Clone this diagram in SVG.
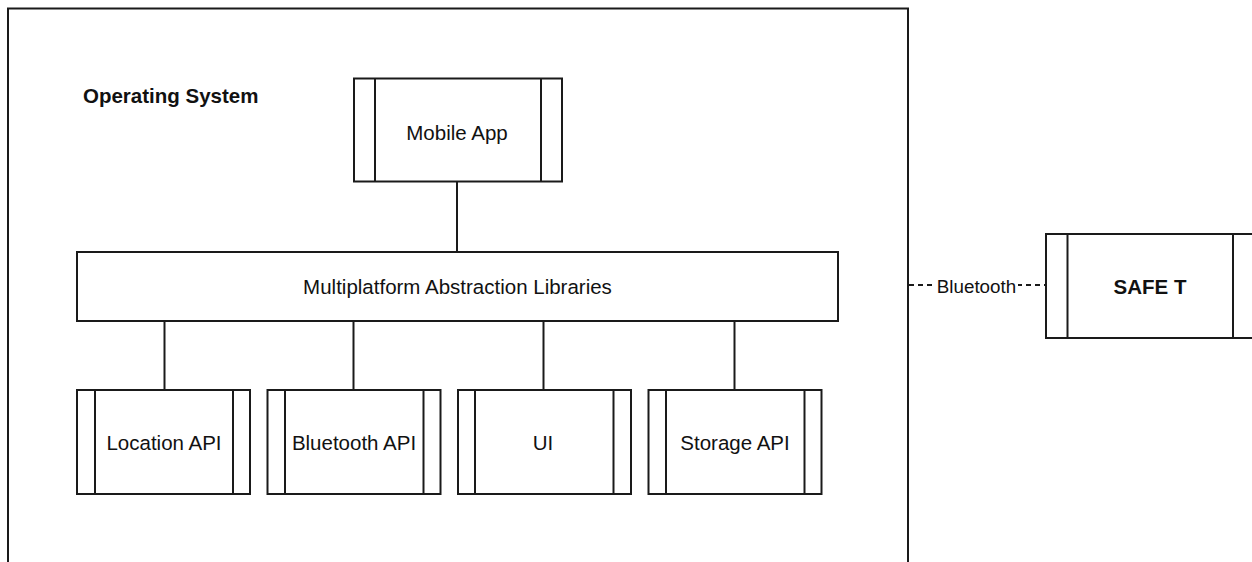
<svg xmlns="http://www.w3.org/2000/svg" width="1252" height="562" viewBox="0 0 1252 562">
<style>
.box{fill:#fff;stroke:#1a1a1a;stroke-width:2}
.ln{stroke:#1a1a1a;stroke-width:2;fill:none}
.t{font-family:"Liberation Sans",Arial,sans-serif;font-size:20.5px;fill:#111;text-anchor:middle}
.b{font-weight:bold}
.dash{stroke:#1a1a1a;stroke-width:2;stroke-dasharray:5 4;fill:none}
</style>
<rect width="1252" height="562" fill="#fff"/>
<g id="os">
<path class="ln" d="M8,570 V8.5 H908 V570"/>
<text class="t b" x="83" y="103" style="text-anchor:start">Operating System</text>
</g>
<g id="connectors">
<line class="ln" x1="457" y1="182" x2="457" y2="252"/>
<line class="ln" x1="164.5" y1="321" x2="164.5" y2="390"/>
<line class="ln" x1="353.5" y1="321" x2="353.5" y2="390"/>
<line class="ln" x1="543.5" y1="321" x2="543.5" y2="390"/>
<line class="ln" x1="734.5" y1="321" x2="734.5" y2="390"/>
<line class="dash" x1="909" y1="285" x2="1046" y2="285"/>
<rect x="936" y="273" width="82" height="24" fill="#fff"/>
<text class="t" x="976.5" y="292.5" style="font-size:18.8px">Bluetooth</text>
</g>
<g id="mobile-app">
<rect class="box" x="354" y="78.5" width="208" height="103"/>
<line class="ln" x1="375" y1="78.5" x2="375" y2="181.5"/>
<line class="ln" x1="541" y1="78.5" x2="541" y2="181.5"/>
<text class="t" x="457" y="140">Mobile App</text>
</g>
<g id="multiplatform">
<rect class="box" x="77" y="252" width="761" height="69"/>
<text class="t" x="457.5" y="294">Multiplatform Abstraction Libraries</text>
</g>
<g id="location-api">
<rect class="box" x="77" y="390" width="173" height="104"/>
<line class="ln" x1="95" y1="390" x2="95" y2="494"/>
<line class="ln" x1="233" y1="390" x2="233" y2="494"/>
<text class="t" x="164" y="450">Location API</text>
</g>
<g id="bluetooth-api">
<rect class="box" x="267.5" y="390" width="173" height="104"/>
<line class="ln" x1="285" y1="390" x2="285" y2="494"/>
<line class="ln" x1="423.5" y1="390" x2="423.5" y2="494"/>
<text class="t" x="354" y="450">Bluetooth API</text>
</g>
<g id="ui">
<rect class="box" x="458" y="390" width="173" height="104"/>
<line class="ln" x1="475" y1="390" x2="475" y2="494"/>
<line class="ln" x1="613.5" y1="390" x2="613.5" y2="494"/>
<text class="t" x="543" y="450">UI</text>
</g>
<g id="storage-api">
<rect class="box" x="648.5" y="390" width="173" height="104"/>
<line class="ln" x1="666" y1="390" x2="666" y2="494"/>
<line class="ln" x1="804.5" y1="390" x2="804.5" y2="494"/>
<text class="t" x="735" y="450">Storage API</text>
</g>
<g id="safe-t">
<rect class="box" x="1046" y="234" width="208" height="104"/>
<line class="ln" x1="1067.5" y1="234" x2="1067.5" y2="338"/>
<line class="ln" x1="1233" y1="234" x2="1233" y2="338"/>
<text class="t b" x="1150" y="294">SAFE T</text>
</g>
</svg>
